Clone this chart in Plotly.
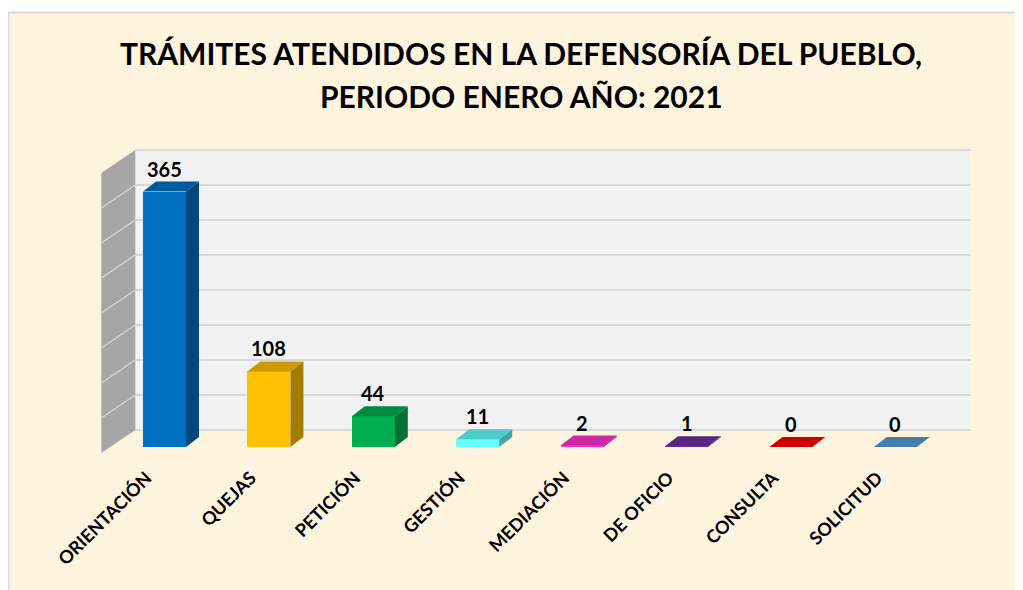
import plotly.graph_objects as go

# ---------------- data ----------------
categories = ["ORIENTACIÓN", "QUEJAS", "PETICIÓN", "GESTIÓN",
              "MEDIACIÓN", "DE OFICIO", "CONSULTA", "SOLICITUD"]
values = [365, 108, 44, 11, 2, 1, 0, 0]
axis_max = 400
grid_step = 50
title_line1 = "TRÁMITES ATENDIDOS EN LA DEFENSORÍA DEL PUEBLO,"
title_line2 = "PERIODO ENERO AÑO: 2021"

# ---------------- styles ----------------
front_colors = ["#0070C0", "#FFC000", "#00B050", "#66FFFF",
                "#FF33CC", "#7030A0", "#FF0000", "#5B9BD5"]
CREAM = "#FFF4DE"
FONT = "Lato, 'Open Sans', 'DejaVu Sans', sans-serif"


def shade(hex_color, f):
    h = hex_color.lstrip("#")
    r, g, b = (int(h[i:i + 2], 16) for i in (0, 2, 4))
    return "#%02X%02X%02X" % (int(r * f), int(g * f), int(b * f))


# ---------------- layout geometry (page pixels) ----------------
PAGE_W, PAGE_H = 1023, 590
OFF = 8                                  # page body margin
W, H = PAGE_W - OFF, PAGE_H - OFF        # figure size
PL, PR, PT, PB = 90, 985, 140, 463       # plot area (page px)
CAT0_PX, CAT_STEP = 164.5, 104.4         # pixel centre of first category, spacing
BASE_PX, PX_PER_UNIT = 447, 0.7          # pixel of value 0, pixels per unit
BAR_W_PX = 43
DEPTH_PX = (13, 10)                      # bar depth offset (right, up)
WALL_BACK_PX = (23, 17)                  # back wall offset (right, up)
WALL_FRONT_PX = (-11, -6)                # side wall front edge offset

x_min = -(CAT0_PX - PL) / CAT_STEP
x_max = x_min + (PR - PL) / CAT_STEP
y_min = -(PB - BASE_PX) / PX_PER_UNIT
y_max = y_min + (PB - PT) / PX_PER_UNIT


def ox(px):
    return px / CAT_STEP


def oy(px):
    return px / PX_PER_UNIT


def path(points):
    return "M " + " L ".join(f"{x},{y}" for x, y in points) + " Z"


def ppx(px):
    return (px - PL) / (PR - PL)


def ppy(py):
    return (PB - py) / (PB - PT)


n = len(categories)
bw = BAR_W_PX / CAT_STEP
ddx, ddy = ox(DEPTH_PX[0]), oy(DEPTH_PX[1])

shapes = []

# background frame (white band + light border)
shapes.append(dict(type="rect", xref="paper", yref="paper", layer="below",
                   x0=ppx(0), x1=ppx(PAGE_W + OFF), y0=ppy(0), y1=ppy(12),
                   fillcolor="white", line_width=0))
shapes.append(dict(type="line", xref="paper", yref="paper", layer="below",
                   x0=ppx(OFF), x1=ppx(PAGE_W + OFF), y0=ppy(12.5), y1=ppy(12.5),
                   line=dict(color="#D9D9D9", width=2)))
shapes.append(dict(type="line", xref="paper", yref="paper", layer="below",
                   x0=ppx(OFF + 0.5), x1=ppx(OFF + 0.5), y0=ppy(12), y1=ppy(PAGE_H + OFF),
                   line=dict(color="#D9D9D9", width=2)))

# back wall
bx0 = -0.5 + ox(WALL_BACK_PX[0])
bx1 = n - 0.5 + ox(WALL_BACK_PX[0])
by = oy(WALL_BACK_PX[1])
shapes.append(dict(type="path", xref="x", yref="y", layer="below",
                   path=path([(bx0, by), (bx1, by), (bx1, axis_max + by), (bx0, axis_max + by)]),
                   fillcolor="#F2F2F2", line_width=0))
for v in range(0, axis_max + 1, grid_step):
    shapes.append(dict(type="line", xref="x", yref="y", layer="below",
                       x0=bx0, x1=bx1, y0=v + by, y1=v + by,
                       line=dict(color="#D9D9D9", width=2)))

# side wall
fx = -0.5 + ox(WALL_FRONT_PX[0])
fy = oy(WALL_FRONT_PX[1])
shapes.append(dict(type="path", xref="x", yref="y", layer="below",
                   path=path([(fx, fy), (bx0, by), (bx0, axis_max + by), (fx, axis_max + fy)]),
                   fillcolor="#A6A6A6", line_width=0))
for v in range(grid_step, axis_max, grid_step):
    shapes.append(dict(type="line", xref="x", yref="y", layer="below",
                       x0=fx, x1=bx0, y0=v + fy, y1=v + by,
                       line=dict(color="#D4D4D4", width=1.5)))

# 3D faces of the bars
for i, v in enumerate(values):
    xl, xr = i - bw / 2, i + bw / 2
    top = shade(front_colors[i], 0.8)
    side = shade(front_colors[i], 0.65)
    if v > 0:
        shapes.append(dict(type="path", xref="x", yref="y", layer="above",
                           path=path([(xr, 0), (xr + ddx, ddy), (xr + ddx, v + ddy), (xr, v)]),
                           fillcolor=side, line_width=0))
    shapes.append(dict(type="path", xref="x", yref="y", layer="above",
                       path=path([(xl, v), (xr, v), (xr + ddx, v + ddy), (xl + ddx, v + ddy)]),
                       fillcolor=top, line_width=0))

fig = go.Figure()
fig.add_trace(go.Bar(x=list(range(n)), y=values, width=bw,
                     marker=dict(color=front_colors, line_width=0),
                     hovertext=categories, showlegend=False))

annotations = []
for i, v in enumerate(values):
    annotations.append(dict(x=i, y=v, xref="x", yref="y", text=str(v),
                            showarrow=False, yshift=23, yanchor="middle",
                            font=dict(family=FONT, size=20, color="black", weight="bold")))
annotations.append(dict(x=ppx(521), y=ppy(96), xref="paper", yref="paper",
                        text=title_line2, showarrow=False, xanchor="center", yanchor="middle",
                        font=dict(family=FONT, size=30, color="black", weight="bold")))

fig.update_layout(
    width=W, height=H, autosize=False,
    margin=dict(l=PL - OFF, r=W - (PR - OFF), t=PT - OFF, b=H - (PB - OFF), pad=0),
    paper_bgcolor=CREAM, plot_bgcolor="rgba(0,0,0,0)",
    title=dict(text=title_line1, x=(521 - OFF) / W, xanchor="center", xref="container",
               y=1 - (54 - OFF) / H, yanchor="middle", yref="container",
               font=dict(family=FONT, size=30, color="black", weight="bold")),
    xaxis=dict(range=[x_min, x_max], tickmode="array", tickvals=list(range(n)),
               ticktext=categories, tickangle=-45, showgrid=False, zeroline=False,
               showline=False, ticks="", automargin=False, ticklabelshift=-18,
               tickfont=dict(family=FONT, size=18, color="black", weight="bold")),
    yaxis=dict(range=[y_min, y_max], visible=False),
    shapes=shapes, annotations=annotations, bargap=0,
)

fig.write_html("out.html")
